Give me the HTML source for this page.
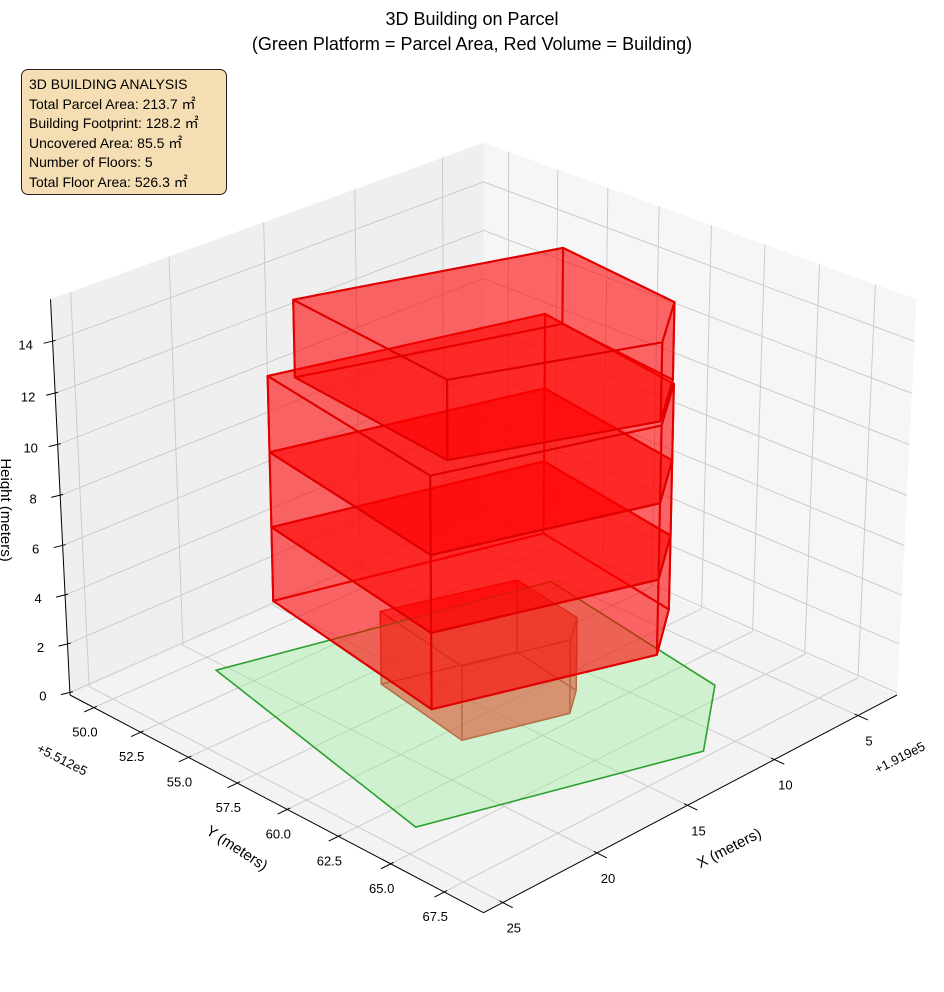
<!DOCTYPE html>
<html><head><meta charset="utf-8"><style>
html,body{margin:0;padding:0;background:#fff;}
body{width:944px;height:992px;overflow:hidden;position:relative;font-family:"Liberation Sans","Noto Sans CJK SC",sans-serif;}
svg{position:absolute;left:0;top:0;}
svg text{font-family:"Liberation Sans","Noto Sans CJK SC",sans-serif;fill:#000;}
#info{position:absolute;left:21px;top:69px;width:197px;height:119px;padding:5px 0 0 7px;background:#f5deb3;border:1.3px solid #222;border-radius:7px;font-size:14px;line-height:19.5px;font-family:"Liberation Sans","Noto Sans CJK SC",sans-serif;white-space:nowrap;}
</style></head><body>
<svg id="chart" width="944" height="992" viewBox="0 0 944 992">
<text x="472" y="25" text-anchor="middle" font-size="18">3D Building on Parcel</text>
<text x="472" y="50" text-anchor="middle" font-size="18">(Green Platform = Parcel Area, Red Volume = Building)</text>
<g id="panes"></g>
<g id="grid"></g>
<g id="axes"></g>
<g id="marks"></g>
<text x="237" y="853" text-anchor="middle" font-size="15" transform="rotate(33 237 848)">Y (meters)</text>
<text x="729" y="853" text-anchor="middle" font-size="15" transform="rotate(-27 729 848)">X (meters)</text>
<text x="6" y="515" text-anchor="middle" font-size="15" transform="rotate(90 6 510)">Height (meters)</text>
<text x="62" y="764" text-anchor="middle" font-size="13" transform="rotate(27 62 760)">+5.512e5</text>
<text x="900" y="762" text-anchor="middle" font-size="13" transform="rotate(-27 900 758)">+1.919e5</text>
</svg>
<div id="info">3D BUILDING ANALYSIS<br>Total Parcel Area: 213.7 ㎡<br>Building Footprint: 128.2 ㎡<br>Uncovered Area: 85.5 ㎡<br>Number of Floors: 5<br>Total Floor Area: 526.3 ㎡</div>
<script>
// ---- data (local coords, offsets +1.919e5 / +5.512e5) ----
const xLim = [2.6, 26];
const yLim = [48.7, 69.3];
const zLim = [-0.1, 15.6];
const xTicks = [5, 10, 15, 20, 25];
const yTicks = [50.0, 52.5, 55.0, 57.5, 60.0, 62.5, 65.0, 67.5];
const zTicks = [0, 2, 4, 6, 8, 10, 12, 14];
const parcelX = [20.6, 5.4, 7.3, 11.6, 23.6];
const parcelY = [51.1, 54.7, 64.4, 67.3, 64.0];
const groundX = [16.7, 10.9, 11.55, 13.1, 17.65];
const groundY = [56.0, 57.7, 61.2, 62.2, 60.9];
const midX = [19.1, 7.1, 8.45, 11.6, 20.9];
const midY = [52.75, 55.75, 63.05, 65.05, 62.35];
const topX = [18.44, 7.33, 8.2, 11.35, 19.5];
const topY = [53.5, 56.8, 62.8, 64.8, 61.9];
const floorBase = [0, 3, 6, 9, 12];
const floorHeight = 3;

// ---- projection (elev 26, azim 45, perspective) ----
const NS = 'http://www.w3.org/2000/svg';
const EL = 26 * Math.PI / 180, AZ = 45 * Math.PI / 180, DIST = 8, HA = 0.571, HC = 0.42;
const eye = [Math.cos(EL) * Math.cos(AZ), Math.cos(EL) * Math.sin(AZ), Math.sin(EL)];
const rgt = [-Math.sin(AZ), Math.cos(AZ), 0];
const upv = [-Math.sin(EL) * Math.cos(AZ), -Math.sin(EL) * Math.sin(AZ), Math.cos(EL)];
function raw(x, y, z) {
  const u = ((x - xLim[0]) / (xLim[1] - xLim[0]) - 0.5) * 2 * HA;
  const v = ((y - yLim[0]) / (yLim[1] - yLim[0]) - 0.5) * 2 * HA;
  const w = ((z - zLim[0]) / (zLim[1] - zLim[0]) - 0.5) * 2 * HC;
  const d = DIST - (u * eye[0] + v * eye[1] + w * eye[2]);
  const f = DIST / d;
  return [(u * rgt[0] + v * rgt[1]) * f, -(u * upv[0] + v * upv[1] + w * upv[2]) * f];
}
const rL = raw(xLim[1], yLim[0], zLim[0]), rR = raw(xLim[0], yLim[1], zLim[0]);
const SC = 827 / (rR[0] - rL[0]);
const CX = 483.5 - SC * (rL[0] + rR[0]) / 2;
const CY = 695 - SC * (rL[1] + rR[1]) / 2;
function P(x, y, z) { const r = raw(x, y, z); return [CX + SC * r[0], CY + SC * r[1]]; }
function pts(arr) { return arr.map(p => p[0].toFixed(1) + ',' + p[1].toFixed(1)).join(' '); }

function mk(parent, tag, attrs) {
  const el = document.createElementNS(NS, tag);
  for (const k in attrs) el.setAttribute(k, attrs[k]);
  parent.appendChild(el);
  return el;
}
const gP = document.getElementById('panes'), gG = document.getElementById('grid'),
      gA = document.getElementById('axes'), gM = document.getElementById('marks');

// panes
const [x0, x1] = xLim, [y0, y1] = yLim, [z0, z1] = zLim;
let e;
e = mk(gP, 'polygon', {points: pts([P(x0,y0,z0),P(x1,y0,z0),P(x1,y1,z0),P(x0,y1,z0)]), fill: '#f3f3f3'});


e = mk(gP, 'polygon', {points: pts([P(x0,y0,z0),P(x1,y0,z0),P(x1,y0,z1),P(x0,y0,z1)]), fill: '#efefef'});


e = mk(gP, 'polygon', {points: pts([P(x0,y0,z0),P(x0,y1,z0),P(x0,y1,z1),P(x0,y0,z1)]), fill: '#f6f6f6'});



function gline(a, b, name) {
  const l = mk(gG, 'line', {x1: a[0], y1: a[1], x2: b[0], y2: b[1], stroke: '#c8c8c8', 'stroke-width': 0.9});
  
  
}
xTicks.forEach(x => { gline(P(x,y0,z0), P(x,y1,z0), 'x-grid-floor'); gline(P(x,y0,z0), P(x,y0,z1), 'x-grid-wall'); });
yTicks.forEach(y => { gline(P(x0,y,z0), P(x1,y,z0), 'y-grid-floor'); gline(P(x0,y,z0), P(x0,y,z1), 'y-grid-wall'); });
zTicks.forEach(z => { gline(P(x0,y0,z), P(x1,y0,z), 'z-grid-left-wall'); gline(P(x0,y0,z), P(x0,y1,z), 'z-grid-right-wall'); });

function aline(a, b, name) {
  const l = mk(gA, 'line', {x1: a[0], y1: a[1], x2: b[0], y2: b[1], stroke: '#000', 'stroke-width': 1});
  
  
}
function label(x, y, txt, anchor, name) {
  const t = mk(gA, 'text', {x: x, y: y, 'text-anchor': anchor, 'font-size': 13});
  t.textContent = txt;
  
  
}
aline(P(x0,y1,z0), P(x1,y1,z0), 'x-axis-line');
aline(P(x1,y0,z0), P(x1,y1,z0), 'y-axis-line');
aline(P(x1,y0,z0), P(x1,y0,z1), 'z-axis-line');
xTicks.forEach(x => {
  const a = P(x, y1 - 0.15, z0), b = P(x, y1 + 0.45, z0), c = P(x, y1, z0);
  aline(a, b, 'x-tick');
  label(c[0] + 11, c[1] + 30, String(x), 'middle', 'x-tick-label');
});
yTicks.forEach(y => {
  const a = P(x1 - 0.15, y, z0), b = P(x1 + 0.5, y, z0), c = P(x1, y, z0);
  aline(a, b, 'y-tick');
  label(c[0] - 9, c[1] + 29, y.toFixed(1), 'middle', 'y-tick-label');
});
zTicks.forEach(z => {
  const c = P(x1, y0, z);
  aline([c[0] - 9, c[1] + 2], [c[0] + 3, c[1] - 1], 'z-tick');
  label(c[0] - 27, c[1] + 8, String(z), 'middle', 'z-tick-label');
});

// prisms
function prism(fx, fy, zb, h, stroke, sw, name) {
  const g = mk(gM, 'g', {});
  
  
  const bot = fx.map((x, i) => P(x, fy[i], zb));
  const top = fx.map((x, i) => P(x, fy[i], zb + h));
  const st = {fill: 'rgba(255,0,0,0.36)', stroke: stroke, 'stroke-width': sw, 'stroke-linejoin': 'round'};
  let f = mk(g, 'polygon', Object.assign({points: pts(bot)}, st));
  
  
  for (let i = 0; i < fx.length; i++) {
    const j = (i + 1) % fx.length;
    f = mk(g, 'polygon', Object.assign({points: pts([bot[i], bot[j], top[j], top[i]])}, st));
    
    
  }
  f = mk(g, 'polygon', Object.assign({points: pts(top)}, st));
  
  
}
const shapesX = [groundX, midX, midX, midX, topX];
const shapesY = [groundY, midY, midY, midY, topY];

prism(shapesX[0], shapesY[0], floorBase[0], floorHeight, '#c8281e', 1.3, 'floor-1-volume');
const parcel = mk(gM, 'polygon', {points: pts(parcelX.map((x, i) => P(x, parcelY[i], 0))), fill: 'rgba(144,238,144,0.35)', stroke: '#2ca02c', 'stroke-width': 1.6});


for (let k = 1; k < floorBase.length; k++) {
  prism(shapesX[k], shapesY[k], floorBase[k], floorHeight, '#e00000', 2, 'floor-' + (k + 1) + '-volume');
}
</script>
</body></html>
